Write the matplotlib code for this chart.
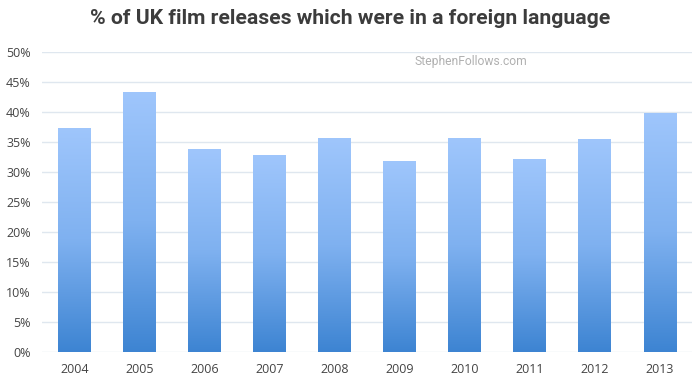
import matplotlib
matplotlib.use("Agg")
import matplotlib.pyplot as plt
import numpy as np
from matplotlib.colors import LinearSegmentedColormap
from matplotlib.patches import Rectangle

years = ["2004", "2005", "2006", "2007", "2008", "2009", "2010", "2011", "2012", "2013"]
values = [37.4, 43.4, 33.8, 32.8, 35.6, 31.9, 35.6, 32.2, 35.5, 39.9]
yticks = [0, 5, 10, 15, 20, 25, 30, 35, 40, 45, 50]
title = "% of UK film releases which were in a foreign language"
watermark = "StephenFollows.com"

fig = plt.figure(figsize=(7, 3.87), dpi=100)
ax = fig.add_axes([0.06, 0.0904, 0.929, 0.7752])

x = np.arange(len(years))
bars = ax.bar(x, values, width=0.5, color="none", zorder=2)
cmap = LinearSegmentedColormap.from_list("g", ["#3d84d2", "#7fb1f0", "#9fc6fc"])
grad = np.linspace(0, 1, 256).reshape(-1, 1)
for b in bars:
    bx, by = b.get_x(), b.get_y()
    w, h = b.get_width(), b.get_height()
    im = ax.imshow(grad, extent=[bx, bx + w, by, by + h], origin="lower",
                   cmap=cmap, aspect="auto", zorder=2)
    clip = Rectangle((bx, by), w, h, transform=ax.transData, facecolor="none", edgecolor="none")
    ax.add_patch(clip)
    im.set_clip_path(clip)

ax.set_xlim(-0.5, len(years) - 0.5)
ax.set_ylim(0, 50)
ax.set_yticks(yticks)
ax.set_yticklabels([f"{t}%" for t in yticks])
ax.set_xticks(x)
ax.set_xticklabels(years)
ax.grid(axis="y", color="#dfe7ef", linewidth=1, zorder=0)
ax.set_axisbelow(True)
for s in ax.spines.values():
    s.set_visible(False)
ax.tick_params(length=0, labelsize=9, colors="#444444", pad=8)
for lbl in ax.get_xticklabels() + ax.get_yticklabels():
    lbl.set_fontfamily("Open Sans")

fig.text(0.5, 0.953, title, ha="center", va="center", fontsize=15.2, fontweight="bold",
         color="#3c3c3c", family=["Roboto", "DejaVu Sans"])
fig.text(0.673, 0.84, watermark, ha="center", va="center", fontsize=8.7,
         color="#b0b0b0", family=["Roboto", "DejaVu Sans"])

fig.savefig("out.png", dpi=100)
